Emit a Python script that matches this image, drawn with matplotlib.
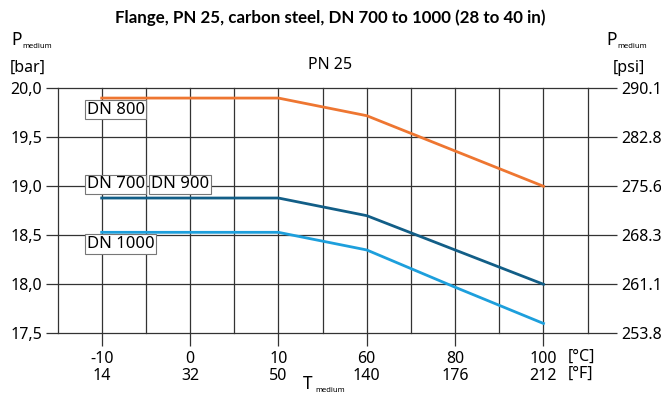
import numpy as np
from matplotlib import pyplot as plt
from matplotlib.ticker import FixedLocator

plt.rcParams['font.family'] = ['Noto Sans', 'DejaVu Sans']

temp_c = ["-10", "0", "10", "60", "80", "100"]
temp_f = ["14", "32", "50", "140", "176", "212"]
dn800 = [19.9, 19.9, 19.9, 19.72, 19.36, 19.0]
dn700_900 = [18.88, 18.88, 18.88, 18.7, 18.35, 18.0]
dn1000 = [18.53, 18.53, 18.53, 18.35, 17.97, 17.6]
bar_ticks = [17.5, 18.0, 18.5, 19.0, 19.5, 20.0]
bar_labels = ["17,5", "18,0", "18,5", "19,0", "19,5", "20,0"]
psi_labels = ["253.8", "261.1", "268.3", "275.6", "282.8", "290.1"]

fig = plt.figure(figsize=(6.61, 3.93), dpi=100)
ax = fig.add_axes([0.087, 0.152, 0.802, 0.6234])

x = np.arange(len(temp_c))
grid_col = "#333333"

ax.plot(x, dn800, color="#ee7631", lw=2.0, zorder=3)
ax.plot(x, dn700_900, color="#125e87", lw=2.0, zorder=3)
ax.plot(x, dn1000, color="#1d9fdc", lw=2.0, zorder=3)

ax.set_xlim(-0.5, 5.5)
ax.set_ylim(17.5, 20.0)

ax.set_xticks(x)
ax.set_xticklabels([c + "\n" + f for c, f in zip(temp_c, temp_f)], fontsize=11.5, linespacing=1.05)
ax.xaxis.set_minor_locator(FixedLocator(np.arange(-0.5, 5.6, 1.0)))
ax.set_yticks(bar_ticks)
ax.set_yticklabels(bar_labels, fontsize=11.5)

ax.tick_params(axis="x", which="major", length=9, width=0.9, color=grid_col, pad=4)
ax.tick_params(axis="x", which="minor", length=0)
ax.tick_params(axis="y", length=9, width=0.9, color=grid_col, pad=2)
ax.grid(True, which="both", color=grid_col, lw=0.9)
ax.set_axisbelow(True)
for s in ax.spines.values():
    s.set_visible(False)
# edge gridlines should not be cut in half
for gl in ax.get_xgridlines() + ax.get_ygridlines() + ax.xaxis.get_minorticklines():
    gl.set_clip_on(False)
for t in ax.xaxis.get_minor_ticks():
    t.gridline.set_clip_on(False)

ax2 = ax.twinx()
ax2.set_ylim(17.5, 20.0)
ax2.set_yticks(bar_ticks)
ax2.set_yticklabels(psi_labels, fontsize=11.5)
ax2.tick_params(axis="y", length=21, width=0.9, color=grid_col, pad=3)
for s in ax2.spines.values():
    s.set_visible(False)

box = dict(boxstyle="square,pad=0.1", fc="white", ec="#777777", lw=0.8)
ax.text(-0.17, 19.78, "DN 800", fontsize=12, ha="left", va="center", bbox=box, zorder=4)
ax.text(-0.17, 19.02, "DN 700", fontsize=12, ha="left", va="center", bbox=box, zorder=4)
ax.text(0.56, 19.02, "DN 900", fontsize=12, ha="left", va="center", bbox=box, zorder=4)
ax.text(-0.17, 18.41, "DN 1000", fontsize=12, ha="left", va="center", bbox=box, zorder=4)

# units next to the last tick
fig.text(568 / 661, 1 - 357 / 393, "[°C]", fontsize=11.5, ha="left", va="center")
fig.text(568 / 661, 1 - 374 / 393, "[°F]", fontsize=11.5, ha="left", va="center")

fig.text(0.5, 1 - 18 / 393, "Flange, PN 25, carbon steel, DN 700 to 1000 (28 to 40 in)",
         fontsize=12.2, fontweight="bold", family=["Lato", "DejaVu Sans"], ha="center", va="center")
fig.text(330 / 661, 1 - 65 / 393, "PN 25", fontsize=11.5, ha="center", va="center")

# axis titles
fig.text(11 / 661, 1 - 40 / 393, "P", fontsize=12.5, ha="left", va="center")
fig.text(22 / 661, 1 - 46 / 393, "medium", fontsize=5.5, ha="left", va="center")
fig.text(28 / 661, 1 - 68 / 393, "[bar]", fontsize=11.5, ha="center", va="center")
fig.text(606 / 661, 1 - 40 / 393, "P", fontsize=12.5, ha="left", va="center")
fig.text(617 / 661, 1 - 46 / 393, "medium", fontsize=5.5, ha="left", va="center")
fig.text(629 / 661, 1 - 68 / 393, "[psi]", fontsize=11.5, ha="center", va="center")
fig.text(303 / 661, 1 - 384 / 393, "T", fontsize=12.5, ha="left", va="center")
fig.text(315 / 661, 1 - 390 / 393, "medium", fontsize=5.5, ha="left", va="center")

fig.savefig("out.png", dpi=100)
